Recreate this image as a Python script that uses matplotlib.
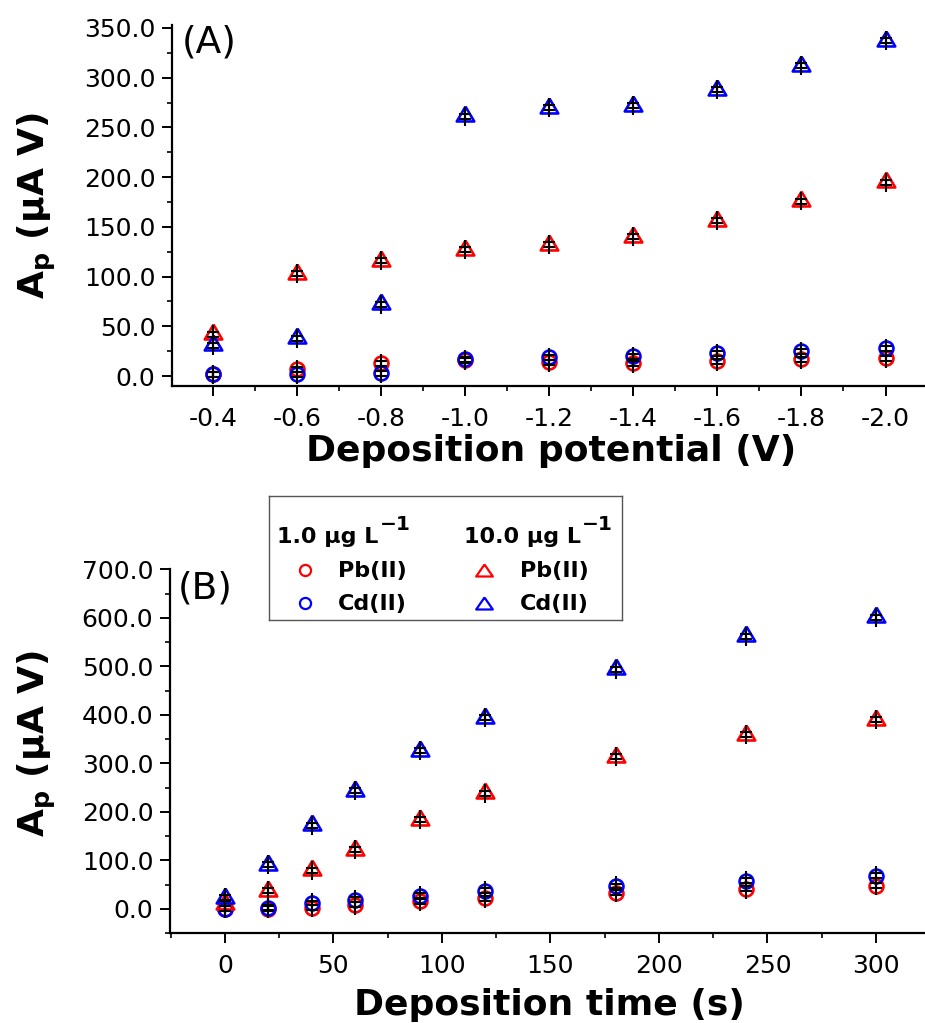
import matplotlib
matplotlib.use("Agg")
import matplotlib.pyplot as plt
from matplotlib.ticker import MultipleLocator, FormatStrFormatter
from matplotlib.lines import Line2D

plt.rcParams['font.family'] = ['DejaVu Sans']
plt.rcParams['axes.unicode_minus'] = False

# ---------------- data ----------------
potential = [-0.4, -0.6, -0.8, -1.0, -1.2, -1.4, -1.6, -1.8, -2.0]
A_pb_1 = [2, 7, 13, 16, 14, 13, 15, 17, 18]
A_cd_1 = [2, 2, 3, 17, 19, 20, 23, 25, 28]
A_pb_10 = [42, 103, 116, 127, 132, 140, 156, 176, 195]
A_cd_10 = [31, 38, 72, 261, 270, 272, 288, 312, 337]
A_err_line = 9.5
A_err_cap = 2.5

dep_time = [0, 20, 40, 60, 90, 120, 180, 240, 300]
B_pb_1 = [0, 0, 2, 8, 15, 22, 33, 41, 48]
B_cd_1 = [0, 2, 12, 19, 27, 37, 47, 58, 68]
B_pb_10 = [10, 37, 79, 122, 184, 238, 314, 359, 390]
B_cd_10 = [23, 91, 172, 244, 326, 394, 494, 562, 601]
B_err_line = 20
B_err_cap = 5

xtick_A = [-0.4, -0.6, -0.8, -1.0, -1.2, -1.4, -1.6, -1.8, -2.0]
xtick_B = [0, 50, 100, 150, 200, 250, 300]

# ---------------- layout ----------------
W, H = 925, 1023
fig = plt.figure(figsize=(W / 100, H / 100), dpi=100)


def rect(left, top, right, bottom):
    return [left / W, 1 - bottom / H, (right - left) / W, (bottom - top) / H]


# triangle with its centroid at the data point
tri_c = [(0, 1.133), (-1, -0.567), (1, -0.567), (0, 1.133)]
# triangle centred on its bounding box (legend)
tri_b = [(0, 0.72), (-1, -0.72), (1, -0.72), (0, 0.72)]
RED = '#ff0000'
BLUE = '#0000ff'
LABEL_FS = 26
TICK_FS = 18


def style_axes(ax):
    for s in ['top', 'right']:
        ax.spines[s].set_visible(False)
    for s in ['left', 'bottom']:
        ax.spines[s].set_linewidth(1.6)
    ax.tick_params(which='major', direction='out', length=7, width=1.4,
                   labelsize=TICK_FS)
    ax.tick_params(axis='x', which='major', pad=8)
    ax.tick_params(axis='y', which='major', pad=5)
    ax.tick_params(which='minor', direction='out', length=3.8, width=1.2)


def draw_series(ax, x, pb1, cd1, pb10, cd10, err_line, err_cap):
    kw = dict(linestyle='none', markerfacecolor='none', markeredgewidth=1.9, zorder=3)
    ax.plot(x, pb1, marker='o', markersize=10, markeredgecolor=RED, **kw)
    ax.plot(x, cd1, marker='o', markersize=10, markeredgecolor=BLUE, **kw)
    ax.plot(x, pb10, marker=tri_c, markersize=14.3, markeredgecolor=RED, **kw)
    ax.plot(x, cd10, marker=tri_c, markersize=14.3, markeredgecolor=BLUE, **kw)
    for ys in (pb1, cd1, pb10, cd10):
        ax.errorbar(x, ys, yerr=err_line, fmt='none', ecolor='k', elinewidth=1.5,
                    capsize=0, zorder=4)
        ax.errorbar(x, ys, yerr=err_cap, fmt='none', ecolor='k', elinewidth=1.5,
                    capsize=4.5, capthick=1.5, zorder=4)


# ---- panel A ----
axA = fig.add_axes(rect(172, 25, 925, 386))
draw_series(axA, potential, A_pb_1, A_cd_1, A_pb_10, A_cd_10, A_err_line, A_err_cap)
axA.set_xlim(-0.302, -2.094)
axA.set_ylim(-10, 353)
axA.set_xticks(xtick_A)
axA.xaxis.set_major_formatter(FormatStrFormatter('%.1f'))
axA.xaxis.set_minor_locator(MultipleLocator(0.1))
axA.yaxis.set_major_locator(MultipleLocator(50))
axA.yaxis.set_minor_locator(MultipleLocator(25))
axA.yaxis.set_major_formatter(FormatStrFormatter('%.1f'))
style_axes(axA)
axA.set_xlabel('Deposition potential (V)', fontsize=LABEL_FS, fontweight='bold')
axA.set_ylabel(r'$\mathbf{A_p}$ (μA V)', fontsize=LABEL_FS, fontweight='bold')
axA.xaxis.set_label_coords(0.503, -0.132)
axA.yaxis.set_label_coords(-0.151, 0.5)
axA.text(182 / W, 1 - 24 / H, '(A)', transform=fig.transFigure, fontsize=27,
         ha='left', va='top')

# ---- panel B ----
axB = fig.add_axes(rect(170, 569, 925, 933))
draw_series(axB, dep_time, B_pb_1, B_cd_1, B_pb_10, B_cd_10, B_err_line, B_err_cap)
axB.set_xlim(-25.3, 322.6)
axB.set_ylim(-50, 701)
axB.set_xticks(xtick_B)
axB.xaxis.set_minor_locator(MultipleLocator(25))
axB.yaxis.set_major_locator(MultipleLocator(100))
axB.yaxis.set_minor_locator(MultipleLocator(50))
axB.yaxis.set_major_formatter(FormatStrFormatter('%.1f'))
style_axes(axB)
axB.set_xlabel('Deposition time (s)', fontsize=LABEL_FS, fontweight='bold')
axB.set_ylabel(r'$\mathbf{A_p}$ (μA V)', fontsize=LABEL_FS, fontweight='bold')
axB.xaxis.set_label_coords(0.503, -0.152)
axB.yaxis.set_label_coords(-0.148, 0.52)
axB.text(178 / W, 1 - 570 / H, '(B)', transform=fig.transFigure, fontsize=27,
         ha='left', va='top')

# ---- legend (manual) ----
leg = fig.add_axes(rect(269, 496, 622, 620))
leg.set_xlim(269, 622)
leg.set_ylim(620, 496)
leg.set_xticks([])
leg.set_yticks([])
for s in leg.spines.values():
    s.set_edgecolor('#555555')
    s.set_linewidth(1.0)
leg.set_zorder(10)

LEG_FS = 16
headers = [(277, '1.0 μg L'), (464, '10.0 μg L')]
fig.canvas.draw()
renderer = fig.canvas.get_renderer()
for hx, htxt in headers:
    t = leg.text(hx, 543, htxt, fontsize=LEG_FS, fontweight='bold',
                 ha='left', va='baseline')
    bb = t.get_window_extent(renderer=renderer)
    x_end = leg.transData.inverted().transform((bb.x1, bb.y0))[0]
    leg.text(x_end + 1, 530, '\u22121', fontsize=14.5, fontweight='bold',
             ha='left', va='baseline')

entries = [
    (305, 570, 'o', 8, RED, 338, 'Pb(II)'),
    (305, 603, 'o', 8, BLUE, 338, 'Cd(II)'),
    (484, 570, tri_b, 12, RED, 520, 'Pb(II)'),
    (484, 603, tri_b, 12, BLUE, 520, 'Cd(II)'),
]
for mx, my, mk, ms, col, tx, lab in entries:
    leg.add_line(Line2D([mx], [my], marker=mk, markersize=ms, markerfacecolor='none',
                        markeredgecolor=col, markeredgewidth=1.6, linestyle='none'))
    leg.text(tx, my + 1, lab, fontsize=LEG_FS, fontweight='bold', ha='left',
             va='center')

fig.savefig('out.png', dpi=100)
